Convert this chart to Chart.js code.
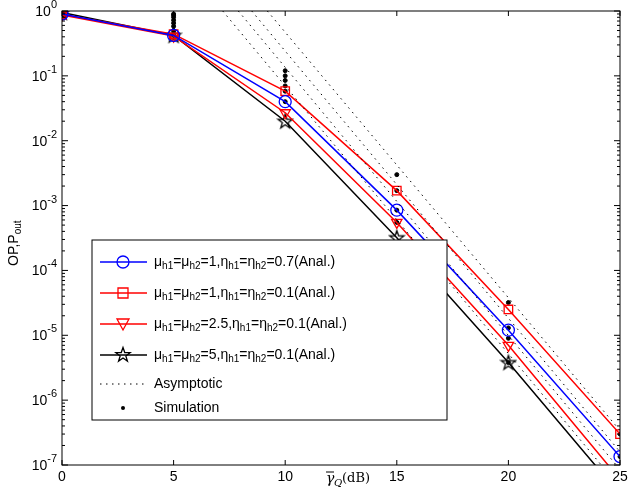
<!DOCTYPE html><html><head><script src="https://cdn.jsdelivr.net/npm/chart.js@4"></script>
<style>body{margin:0;background:#fff}#w{width:630px;height:493px}</style></head><body><div id="w"><canvas id="c"></canvas></div>
<script>
const xs=[0,5,10,15,20,25];
const blue=[0.9,0.42,0.04,8.5e-4,1.2e-5,1.35e-7];
const redSq=[0.88,0.44,0.058,1.7e-3,2.5e-5,3e-7];
const redTri=[0.87,0.41,0.027,5.5e-4,7e-6,6e-8];
const black=[0.95,0.42,0.02,3.2e-4,3.8e-6,3.5e-8];
const asymSqX=[9.2,25],asymSqY=[1,3.4e-7];
const asymBlX=[8.5,25],asymBlY=[1,1.6e-7];
const asymTrX=[7.9,25],asymTrY=[1,8.5e-8];
const asymBkX=[7.2,25],asymBkY=[1,4.5e-8];
const simX=[0,0,0,0,5,5,5,5,5,5,5,5,10,10,10,10,10,10,15,15,15,15,20,20,20,20,25,25];
const simY=[0.9,0.88,0.87,0.95,0.42,0.5,0.58,0.65,0.72,0.8,0.86,0.9,0.058,0.07,0.085,0.1,0.12,0.04,3e-3,1.7e-3,8.5e-4,5.5e-4,3.2e-5,1.3e-5,9e-6,3.8e-6,3e-7,1.35e-7];
const pts=(a,b)=>a.map((x,i)=>({x:x,y:b[i]}));
const legendItems=[
 {c:'#0000ff',s:'circle',t:[['μ'],['h1','s'],['=μ'],['h2','s'],['=1,η'],['h1','s'],['=η'],['h2','s'],['=0.7(Anal.)']]},
 {c:'#ff0000',s:'rect',t:[['μ'],['h1','s'],['=μ'],['h2','s'],['=1,η'],['h1','s'],['=η'],['h2','s'],['=0.1(Anal.)']]},
 {c:'#ff0000',s:'triangle',t:[['μ'],['h1','s'],['=μ'],['h2','s'],['=2.5,η'],['h1','s'],['=η'],['h2','s'],['=0.1(Anal.)']]},
 {c:'#000000',s:'star',t:[['μ'],['h1','s'],['=μ'],['h2','s'],['=5,η'],['h1','s'],['=η'],['h2','s'],['=0.1(Anal.)']]},
 {c:'#000',s:'dot',t:[['Asymptotic']]},
 {c:'#000',s:'sim',t:[['Simulation']]}];
function starPath(ctx,cx,y){ctx.beginPath();for(let k=0;k<10;k++){const r=k%2?3:7.5,an=-Math.PI/2+k*Math.PI/5;ctx.lineTo(cx+r*Math.cos(an),y+r*Math.sin(an));}ctx.closePath();}
const starImg=document.createElement('canvas');starImg.width=18;starImg.height=18;{const g=starImg.getContext('2d');g.strokeStyle='#000';g.lineWidth=1.3;starPath(g,9,9.5);g.stroke();}
function ds(d,c,s){return {data:pts(xs,d),borderColor:c,backgroundColor:'rgba(0,0,0,0)',pointStyle:s,pointRadius:6,pointBorderColor:c,pointBorderWidth:1.3,borderWidth:1.5,tension:0};}
function as(x,y){return {data:pts(x,y),borderColor:'#000',borderWidth:1,borderDash:[1.5,4.5],pointRadius:0};}
function drawRich(ctx,segs,x,y){ctx.textBaseline='middle';for(const [t,k] of segs){if(k==='s'){ctx.font='10px Arial';ctx.fillText(t,x,y+4);}else{ctx.font='14px Arial';ctx.fillText(t,x,y);}x+=ctx.measureText(t).width;}return x;}
const deco={id:'deco',afterDraw(ch){const ctx=ch.ctx,a=ch.chartArea,sx=ch.scales.x,sy=ch.scales.y;ctx.save();ctx.strokeStyle='#000';ctx.fillStyle='#000';ctx.lineWidth=1;
 ctx.strokeRect(a.left,a.top,a.right-a.left,a.bottom-a.top);
 ctx.beginPath();
 for(let v=0;v<=25;v+=5){const p=sx.getPixelForValue(v);ctx.moveTo(p,a.bottom);ctx.lineTo(p,a.bottom-5);ctx.moveTo(p,a.top);ctx.lineTo(p,a.top+5);}
 for(let e=-7;e<=0;e++){const p=sy.getPixelForValue(Math.pow(10,e));ctx.moveTo(a.left,p);ctx.lineTo(a.left+6,p);ctx.moveTo(a.right,p);ctx.lineTo(a.right-6,p);
  if(e<0)for(let m=2;m<=9;m++){const q=sy.getPixelForValue(m*Math.pow(10,e));ctx.moveTo(a.left,q);ctx.lineTo(a.left+3,q);ctx.moveTo(a.right,q);ctx.lineTo(a.right-3,q);}}
 ctx.stroke();
 ctx.font='14px Arial';ctx.textAlign='center';ctx.textBaseline='top';
 for(let v=0;v<=25;v+=5)ctx.fillText(String(v),sx.getPixelForValue(v),a.bottom+5);
 for(let e=-7;e<=0;e++){const p=sy.getPixelForValue(Math.pow(10,e));ctx.textAlign='right';ctx.textBaseline='middle';ctx.font='11px Arial';const es=String(e);const ew=ctx.measureText(es).width;ctx.fillText(es,a.left-5,p-6);ctx.font='14px Arial';ctx.fillText('10',a.left-5-ew,p+1);}
 ctx.textAlign='left';ctx.textBaseline='middle';ctx.font='italic 14px "DejaVu Serif",serif';const tx=326,ty=479;ctx.fillText('γ',tx,ty);ctx.beginPath();ctx.moveTo(tx,ty-7);ctx.lineTo(tx+8,ty-7);ctx.stroke();ctx.font='italic 10px "DejaVu Serif",serif';ctx.fillText('Q',tx+8,ty+4);ctx.font='13px "DejaVu Serif",serif';ctx.fillText('(dB)',tx+16,ty);
 ctx.save();ctx.translate(14,238);ctx.rotate(-Math.PI/2);ctx.textAlign='left';drawRich(ctx,[['OP,P'],['out','s']],-28,0);ctx.restore();
 const lx=92,ly=240,lw=355,lh=180;ctx.fillStyle='#fff';ctx.fillRect(lx,ly,lw,lh);ctx.strokeRect(lx,ly,lw,lh);
 const ys=[262,293,324,355,384,408];
 legendItems.forEach((it,i)=>{const y=ys[i];ctx.strokeStyle=it.c;ctx.fillStyle=it.c;ctx.lineWidth=1.5;
  if(it.s==='dot'){ctx.setLineDash([1.5,4.5]);ctx.lineWidth=1;ctx.beginPath();ctx.moveTo(lx+8,y);ctx.lineTo(lx+55,y);ctx.stroke();ctx.setLineDash([]);}
  else if(it.s==='sim'){ctx.beginPath();ctx.arc(lx+31,y,2,0,7);ctx.fill();}
  else{ctx.beginPath();ctx.moveTo(lx+8,y);ctx.lineTo(lx+55,y);ctx.stroke();ctx.lineWidth=1.3;const cx=lx+31;
   if(it.s==='star'){starPath(ctx,cx,y);}else{ctx.beginPath();
   if(it.s==='circle')ctx.arc(cx,y,6,0,7);else if(it.s==='rect')ctx.rect(cx-5,y-5,10,10);else{ctx.moveTo(cx-6,y-5);ctx.lineTo(cx+6,y-5);ctx.lineTo(cx,y+6);ctx.closePath();}}
   ctx.stroke();}
  ctx.fillStyle='#000';drawRich(ctx,it.t,lx+62,y);});
 ctx.restore();}};
new Chart(document.getElementById('c'),{type:'line',data:{datasets:[
 as(asymSqX,asymSqY),as(asymBlX,asymBlY),as(asymTrX,asymTrY),as(asymBkX,asymBkY),
 ds(blue,'#0000ff','circle'),ds(redSq,'#ff0000','rect'),
 Object.assign(ds(redTri,'#ff0000','triangle'),{pointRotation:180}),Object.assign(ds(black,'#000000',starImg),{}),
 {type:'scatter',data:pts(simX,simY),pointRadius:2,backgroundColor:'#000',borderColor:'#000',showLine:false}]},
 options:{responsive:true,maintainAspectRatio:false,animation:false,layout:{padding:{left:62,right:10,top:11,bottom:28}},
 plugins:{legend:{display:false},tooltip:{enabled:false}},
 scales:{x:{type:'linear',min:0,max:25,display:false},y:{type:'logarithmic',min:1e-7,max:1,display:false}}},plugins:[deco]});
</script></body></html>
